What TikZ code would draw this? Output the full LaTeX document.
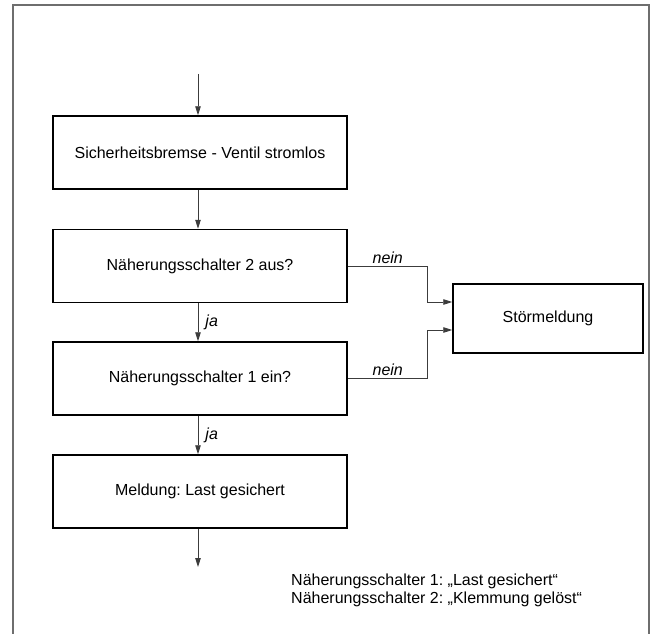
\documentclass[tikz,border=0pt]{standalone}
\usepackage{fontspec}
\setmainfont{Liberation Sans}
\usetikzlibrary{arrows.meta}
\frenchspacing

\begin{document}
\begin{tikzpicture}[x=1pt,y=-1pt,
  stepbox/.style={draw=black, line width=1.5pt, minimum width=294pt, minimum height=73pt, inner sep=0pt, font=\fontsize{16}{19}\selectfont},
  flow/.style={draw=lineGrey, line width=0.9pt, -{Triangle[length=9pt,width=5.5pt]}},
  lbl/.style={font=\fontsize{16}{19}\selectfont\itshape, inner sep=2pt}]

\definecolor{frameGrey}{HTML}{6e6e6e}
\definecolor{lineGrey}{HTML}{3c3c3c}

\useasboundingbox (0,0) rectangle (653,634);
\draw[frameGrey, line width=1.6pt] (13,634) -- (13,5) -- (649,5) -- (649,634);

\node[stepbox] (brake) at (200,152.5) {Sicherheitsbremse - Ventil stromlos};
\node[stepbox] (sw2) at (200,266) {Näherungsschalter 2 aus?};
\node[stepbox] (sw1) at (200,378.5) {Näherungsschalter 1 ein?};
\node[stepbox] (done) at (200,491.5) {Meldung: Last gesichert};
\node[stepbox, minimum width=190pt, minimum height=69pt] (fault) at (548,318.5) {Störmeldung};

\coordinate (start) at (198,74);
\coordinate (exit) at (198,567);

\draw[flow] (start) -- (start |- brake.north);
\draw[flow] (start |- brake.south) -- (start |- sw2.north);
\draw[flow] (start |- sw2.south) -- node[lbl, right, xshift=5pt]{ja} (start |- sw1.north);
\draw[flow] (start |- sw1.south) -- node[lbl, right, xshift=5pt]{ja} (start |- done.north);
\draw[flow] (start |- done.south) -- (exit);

% nein-Zweige zur Stoermeldung
\draw[flow] (sw2.east) -- node[lbl, above]{nein} ++(80,0) |- ([yshift=16.5pt]fault.west);
\draw[flow] (sw1.east) -- node[lbl, above]{nein} ++(80,0) |- ([yshift=-11.5pt]fault.west);

\node[anchor=north west, align=left, inner sep=0pt, font=\fontsize{16}{18}\selectfont] (legend) at (291,574)
  {Näherungsschalter 1: „Last gesichert“\\Näherungsschalter 2: „Klemmung gelöst“};
\end{tikzpicture}
\end{document}
